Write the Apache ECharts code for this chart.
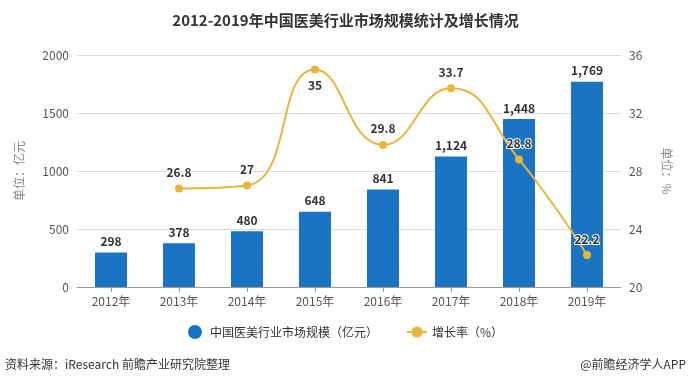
<!DOCTYPE html>
<html><head><meta charset="utf-8">
<script src="https://cdn.jsdelivr.net/npm/echarts@6/dist/echarts.min.js"></script>
<style>html,body{margin:0;padding:0;background:#fff}#c{width:691px;height:386px}</style>
</head><body><div id="c"></div>
<script>
const categories = ['2012年','2013年','2014年','2015年','2016年','2017年','2018年','2019年'];
const marketSize = [298, 378, 480, 648, 841, 1124, 1448, 1769];
const growthRate = [null, 26.8, 27, 35, 29.8, 33.7, 28.8, 22.2];
const growthLabelPos = ['top','top','top','bottom','top','top','top','top'];

const chart = echarts.init(document.getElementById('c'));
const font = '"Microsoft YaHei","Noto Sans CJK SC",sans-serif';
chart.setOption({
  animation: false,
  textStyle: {fontFamily: font},
  title: {
    text: '2012-2019年中国医美行业市场规模统计及增长情况',
    left: 'center', top: 8,
    textStyle: {fontSize: 15, fontWeight: 'bold', color: '#333', fontFamily: font}
  },
  legend: {
    bottom: 42, left: 'center', itemGap: 28, itemWidth: 20,
    textStyle: {fontSize: 12, color: '#333'},
    data: [
      {name: '中国医美行业市场规模（亿元）', icon: 'circle'},
      {name: '增长率（%）'}
    ]
  },
  grid: {left: 77, right: 70, top: 55, bottom: 99},
  xAxis: {
    type: 'category', data: categories,
    axisLine: {lineStyle: {color: '#999'}},
    axisTick: {show: true, alignWithLabel: true, lineStyle: {color: '#999'}},
    axisLabel: {color: '#555', fontSize: 12, margin: 8}
  },
  yAxis: [
    {
      type: 'value', min: 0, max: 2000, interval: 500,
      name: '单位：亿元', nameLocation: 'middle', nameGap: 52, nameRotate: 90,
      nameTextStyle: {color: '#888', fontSize: 12},
      axisLine: {show: false}, axisTick: {show: false},
      axisLabel: {color: '#555', fontSize: 12, formatter: v => String(v)},
      splitLine: {lineStyle: {color: '#ddd'}}
    },
    {
      type: 'value', min: 20, max: 36, interval: 4,
      name: '单位：%', nameLocation: 'middle', nameGap: 40, nameRotate: -90,
      nameTextStyle: {color: '#888', fontSize: 12},
      axisLine: {show: false}, axisTick: {show: false},
      axisLabel: {color: '#555', fontSize: 12},
      splitLine: {show: false}
    }
  ],
  series: [
    {
      name: '中国医美行业市场规模（亿元）', type: 'bar', data: marketSize,
      barWidth: 32,
      itemStyle: {color: '#1a74c3'},
      label: {show: true, position: 'top', fontWeight: 'bold', color: '#333', fontSize: 12,
        formatter: p => p.value.toLocaleString('en-US')}
    },
    {
      name: '增长率（%）', type: 'line', yAxisIndex: 1, smooth: true,
      data: growthRate.map((v, i) => ({value: v, label: {position: growthLabelPos[i]}})),
      symbol: 'circle', symbolSize: 8,
      lineStyle: {color: '#e9b53c', width: 2},
      itemStyle: {color: '#e9b53c'},
      label: {show: true, fontWeight: 'bold', color: '#333', fontSize: 12,
        textBorderColor: '#fff', textBorderWidth: 2, distance: 6}
    }
  ],
  graphic: [
    {type: 'text', left: 5, top: 358, style: {text: '资料来源：iResearch 前瞻产业研究院整理', fontSize: 12, fill: '#333', fontFamily: font}},
    {type: 'text', right: 5, top: 358, style: {text: '@前瞻经济学人APP', fontSize: 12, fill: '#333', fontFamily: font}}
  ]
});
</script></body></html>
